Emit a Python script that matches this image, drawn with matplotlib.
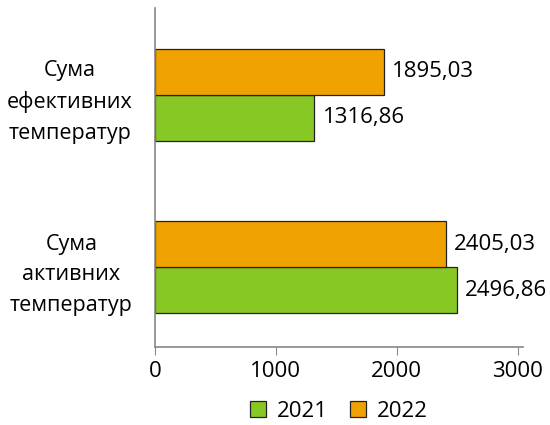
import matplotlib
matplotlib.use('Agg')
import matplotlib.pyplot as plt
import numpy as np

categories = ['Сума\nактивних\nтемператур', 'Сума\nефективних\nтемператур']
values_2021 = [2496.86, 1316.86]
values_2022 = [2405.03, 1895.03]
series_labels = ['2021', '2022']

plt.rcParams['font.family'] = ['Open Sans', 'DejaVu Sans']

fig = plt.figure(figsize=(5.5, 4.25), dpi=100)
ax = fig.add_axes([0.282, 0.1835, 0.669, 0.7975])

y = np.arange(len(categories))
h = 0.266
green = '#88C824'
orange = '#F0A200'

r1 = ax.barh(y - h / 2, values_2021, h, color=green, edgecolor='#222222', linewidth=0.9, label=series_labels[0])
r2 = ax.barh(y + h / 2, values_2022, h, color=orange, edgecolor='#222222', linewidth=0.9, label=series_labels[1])

for rects in (r1, r2):
    for rect in rects:
        w = rect.get_width()
        ax.annotate('{:.2f}'.format(w).replace('.', ','),
                    xy=(w, rect.get_y() + rect.get_height() / 2),
                    xytext=(6, 0), textcoords='offset points',
                    ha='left', va='center', fontsize=16)

ax.set_xlim(0, 3045)
ax.set_ylim(-0.46, 1.5)
ax.set_xticks([0, 1000, 2000, 3000])
ax.set_yticks(y)
ax.set_yticklabels(categories, multialignment='center', linespacing=1.62)
ax.tick_params(axis='y', length=0, pad=16, labelsize=15.5)
ax.tick_params(axis='x', length=6, color='#888888', labelsize=16, pad=4)

for s in ('top', 'right'):
    ax.spines[s].set_visible(False)
for s in ('left', 'bottom'):
    ax.spines[s].set_color('#888888')
    ax.spines[s].set_linewidth(1.2)

ax.legend(loc='center', bbox_to_anchor=(0.5, -0.19), ncol=2, frameon=False,
          fontsize=16, handlelength=0.7, handleheight=0.7, handletextpad=0.5,
          columnspacing=1.0)

fig.savefig('out.png', dpi=100)
